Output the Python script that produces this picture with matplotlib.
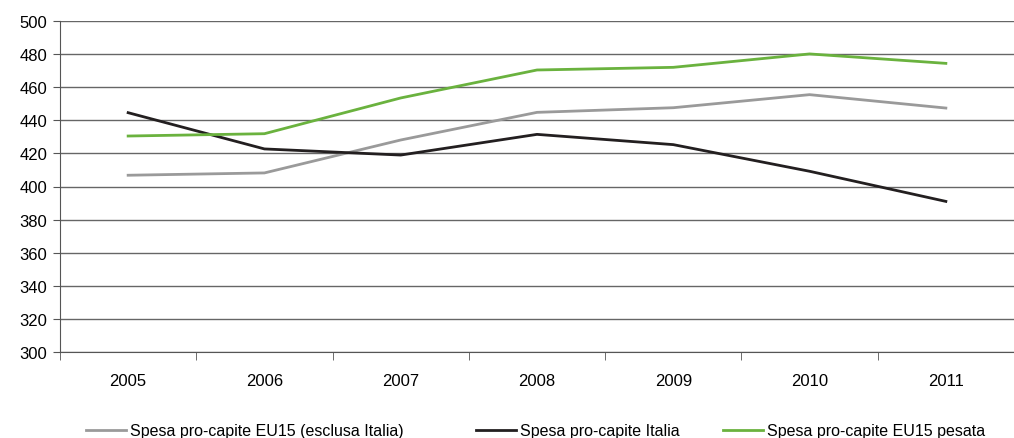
import matplotlib
matplotlib.use("Agg")
import matplotlib.pyplot as plt
import numpy as np

anni = ["2005", "2006", "2007", "2008", "2009", "2010", "2011"]
eu15_escl = [406.8, 408.2, 428.1, 444.8, 447.6, 455.5, 447.4]
italia = [444.6, 422.7, 419.0, 431.5, 425.3, 409.2, 391.0]
eu15_pesata = [430.5, 431.9, 453.5, 470.4, 472.0, 480.1, 474.4]

plt.rcParams['font.family'] = ['Liberation Sans', 'DejaVu Sans']
fig = plt.figure(figsize=(10.14, 4.39), dpi=100)
ax = fig.add_axes([60/1014, 1-353/439, 1-60/1014, (353-22)/439])

x = np.arange(len(anni))
l1, = ax.plot(x, eu15_escl, color='#9a9a9a', lw=2.0, label='Spesa pro-capite EU15 (esclusa Italia)', zorder=3)
l2, = ax.plot(x, italia, color='#231f20', lw=2.0, label='Spesa pro-capite Italia', zorder=3)
l3, = ax.plot(x, eu15_pesata, color='#6ab23e', lw=2.0, label='Spesa pro-capite EU15 pesata', zorder=3)

ax.set_xlim(-0.5, 6.5)
ax.set_ylim(300, 500)
ax.set_yticks(np.arange(300, 501, 20))
ax.yaxis.grid(True, color='#666666', lw=1.0)
ax.set_axisbelow(True)
ax.set_xticks(x)
ax.set_xticklabels(anni)
ax.set_xticks(np.arange(-0.5, 6.6, 1), minor=True)
ax.tick_params(axis='x', which='major', length=0, pad=15, labelsize=12)
ax.tick_params(axis='x', which='minor', length=6, color='#555555')
ax.tick_params(axis='y', length=5, color='#555555', labelsize=12, pad=4)
for s in ['top', 'right']:
    ax.spines[s].set_visible(False)
ax.spines['left'].set_color('#555555')
ax.spines['bottom'].set_color('#555555')

# legend entries placed one by one, like the original
for line, xpos in [(l1, 86), (l2, 476), (l3, 723)]:
    fig.legend(handles=[line], loc='center left', bbox_to_anchor=(xpos/1014, 1-432/439),
               frameon=False, fontsize=11.5, handlelength=2.5, handletextpad=0.25,
               borderpad=0, borderaxespad=0)

fig.savefig('out.png', dpi=100)
